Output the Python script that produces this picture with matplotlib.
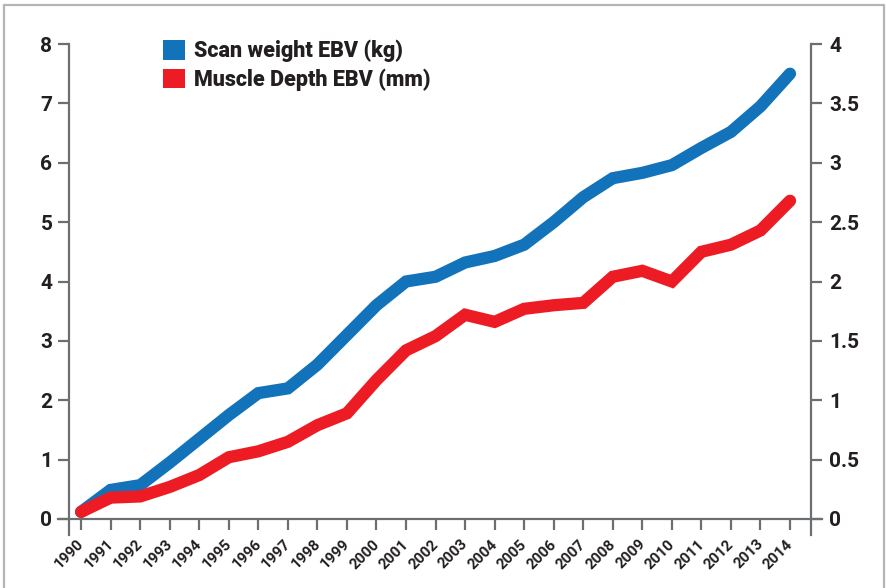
import numpy as np
import matplotlib.pyplot as plt
from matplotlib.patches import Patch, Rectangle
import matplotlib.transforms as mtransforms

# DATOS
years = list(range(1990, 2015))
scan_weight = [0.12, 0.49, 0.57, 0.95, 1.35, 1.75, 2.12, 2.20, 2.60, 3.10,
               3.60, 4.00, 4.08, 4.32, 4.43, 4.62, 5.00, 5.42, 5.74, 5.83,
               5.96, 6.25, 6.52, 6.95, 7.50]
muscle_depth = [0.06, 0.18, 0.19, 0.27, 0.37, 0.52, 0.57, 0.65, 0.79, 0.89,
                1.17, 1.42, 1.54, 1.72, 1.66, 1.77, 1.80, 1.82, 2.04, 2.09,
                2.00, 2.25, 2.31, 2.43, 2.68]
left_ticks = [0, 1, 2, 3, 4, 5, 6, 7, 8]
right_ticks = [0, 0.5, 1, 1.5, 2, 2.5, 3, 3.5, 4]
right_labels = ["0", "0.5", "1", "1.5", "2", "2.5", "3", "3.5", "4"]
labels = ["Scan weight EBV (kg)", "Muscle Depth EBV (mm)"]

azul = "#1273BB"
rojo = "#ED1C24"
gris = "#6D6E71"
texto = "#231F20"

plt.rcParams['font.family'] = ['Roboto', 'DejaVu Sans']
plt.rcParams['font.weight'] = 'bold'

fig = plt.figure(figsize=(8.86, 5.88), dpi=100)
ax = fig.add_axes([69 / 886, 69 / 588, 742 / 886, 475 / 588])
ax2 = ax.twinx()

# borde gris del recuadro
fig.patches.append(Rectangle((4 / 886, -0.05), 880 / 886, 1.05 - 5 / 588,
                             transform=fig.transFigure, fill=False,
                             edgecolor="#B5B5B5", linewidth=1.6))

ax.plot(years, scan_weight, color=azul, linewidth=8.8,
        solid_capstyle='round', solid_joinstyle='miter', zorder=3)
ax2.plot(years, muscle_depth, color=rojo, linewidth=8.8,
         solid_capstyle='round', solid_joinstyle='miter', zorder=3)

ax.set_xlim(1989.59, 2014.71)
ax.set_ylim(0, 8)
ax2.set_ylim(0, 4)

for a in (ax, ax2):
    for s in a.spines.values():
        s.set_visible(False)
ax.patch.set_visible(False)

# ejes dibujados a mano (se extienden fuera del area)
ext = 16 / 475
ax.plot([0, 0], [-ext, 1], color=gris, lw=1.6, transform=ax.transAxes, clip_on=False)
ax.plot([1, 1], [-ext, 1], color=gris, lw=1.6, transform=ax.transAxes, clip_on=False)
ax.plot([-11 / 742, 1 + 11 / 742], [0, 0], color=gris, lw=1.6,
        transform=ax.transAxes, clip_on=False)

ax.set_yticks(left_ticks)
ax.set_yticklabels([str(v) for v in left_ticks])
ax2.set_yticks(right_ticks)
ax2.set_yticklabels(right_labels)
ax.tick_params(axis='y', length=8, width=1.6, color=gris, pad=4,
               labelsize=15, labelcolor=texto)
ax2.tick_params(axis='y', length=8, width=1.6, color=gris, pad=5,
                labelsize=15, labelcolor=texto)

ax.set_xticks(years)
ax.set_xticklabels([str(y) for y in years], rotation=45, ha='right', va='top')
ax.tick_params(axis='x', length=8, width=1.6, color=gris, pad=5,
               labelsize=11, labelcolor=texto)
offset = mtransforms.ScaledTranslation(4 / 72, 0, fig.dpi_scale_trans)
for lab in ax.get_xticklabels():
    lab.set_transform(lab.get_transform() + offset)

handles = [Patch(facecolor=azul, edgecolor='none'),
           Patch(facecolor=rojo, edgecolor='none')]
leg = ax.legend(handles, labels, loc='upper left',
                bbox_to_anchor=(163 / 886, 1 - 40 / 588), bbox_transform=fig.transFigure,
                frameon=False, fontsize=15.5, handlelength=1.02, handleheight=1.02,
                handletextpad=0.4, labelspacing=0.28, borderpad=0, borderaxespad=0,
                labelcolor=texto)
for t in leg.get_texts():
    t.set_fontweight('heavy')

plt.savefig("out.png", dpi=100)
